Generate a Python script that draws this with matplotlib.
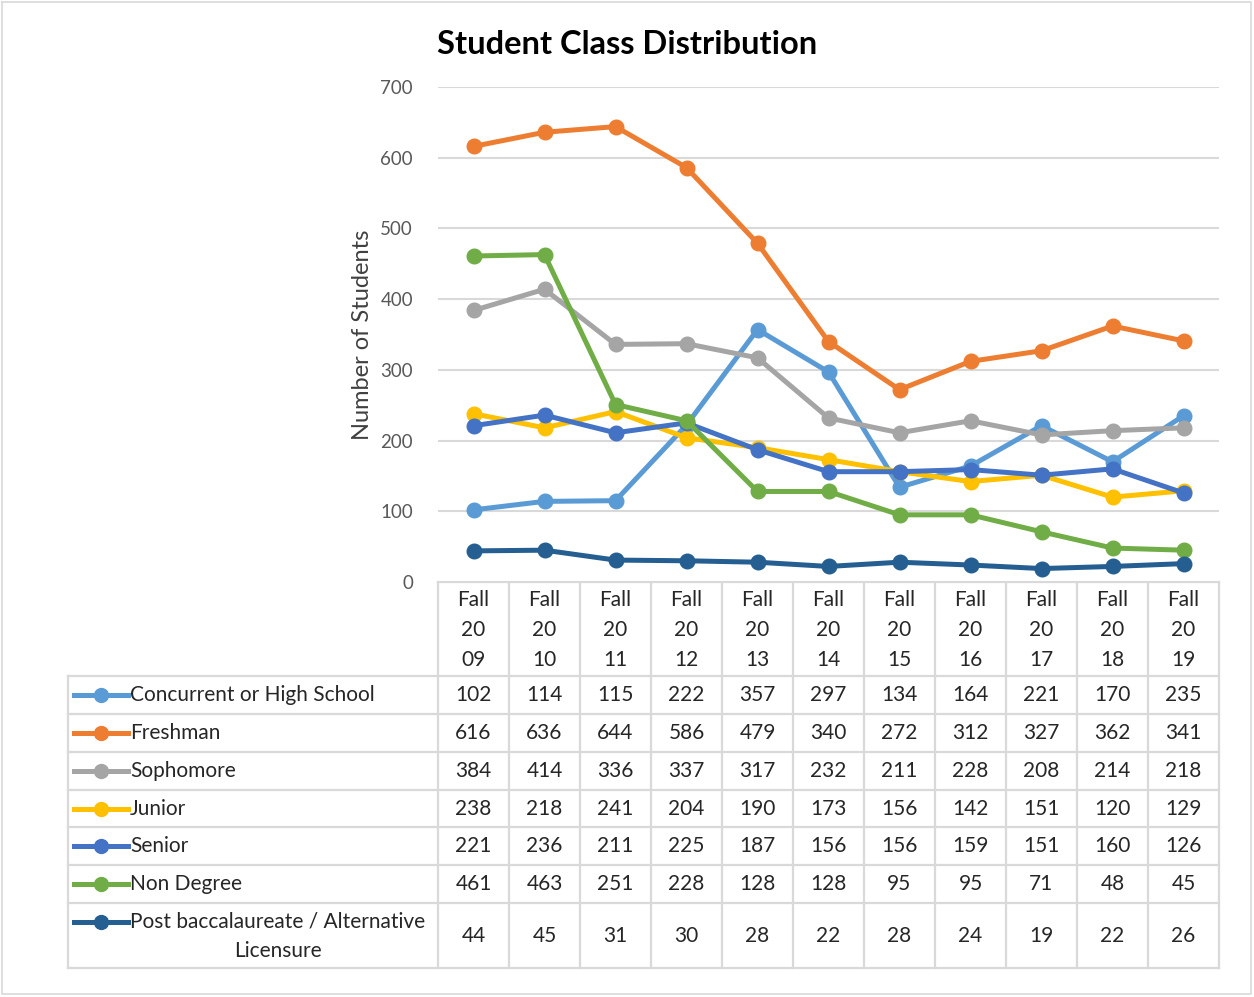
import matplotlib
matplotlib.use('Agg')
import matplotlib.pyplot as plt
import numpy as np

plt.rcParams['font.family'] = ['Lato', 'DejaVu Sans']

years = ['2009', '2010', '2011', '2012', '2013', '2014', '2015', '2016', '2017', '2018', '2019']
series_names = ['Concurrent or High School', 'Freshman', 'Sophomore', 'Junior',
                'Senior', 'Non Degree', 'Post baccalaureate / Alternative\nLicensure']
concurrent = [102, 114, 115, 222, 357, 297, 134, 164, 221, 170, 235]
freshman = [616, 636, 644, 586, 479, 340, 272, 312, 327, 362, 341]
sophomore = [384, 414, 336, 337, 317, 232, 211, 228, 208, 214, 218]
junior = [238, 218, 241, 204, 190, 173, 156, 142, 151, 120, 129]
senior = [221, 236, 211, 225, 187, 156, 156, 159, 151, 160, 126]
non_degree = [461, 463, 251, 228, 128, 128, 95, 95, 71, 48, 45]
post_bacc = [44, 45, 31, 30, 28, 22, 28, 24, 19, 22, 26]
colors = ['#5B9BD5', '#ED7D31', '#A5A5A5', '#FFC000', '#4472C4', '#70AD47', '#255E91']

all_series = [concurrent, freshman, sophomore, junior, senior, non_degree, post_bacc]

W, H = 1254, 997
fig = plt.figure(figsize=(W / 100, H / 100), dpi=100)

# plot area in pixel coords
px0, px1 = 438, 1219
py_top, py_bot = 87, 582
ax = fig.add_axes([px0 / W, 1 - py_bot / H, (px1 - px0) / W, (py_bot - py_top) / H])
x = np.arange(len(years))
for vals, c in zip(all_series, colors):
    ax.plot(x, vals, color=c, lw=3.6, marker='o', ms=10.5, solid_capstyle='round')
ax.set_xlim(-0.5, len(years) - 0.5)
ax.set_ylim(0, 700)
ax.set_yticks(range(0, 701, 100))
ax.yaxis.grid(True, color='#d9d9d9', lw=1.5)
ax.set_axisbelow(True)
ax.set_xticks([])
for s in ax.spines.values():
    s.set_visible(False)
ax.tick_params(axis='y', length=0, labelsize=13.5, labelcolor='#595959', pad=18)
ax.set_ylabel('Number of Students', fontsize=17, color='#404040', labelpad=5)

# overlay for table, pixel coordinates
tx = fig.add_axes([0, 0, 1, 1], zorder=-1)
tx.set_xlim(0, W)
tx.set_ylim(H, 0)
tx.axis('off')

# outer frame of the image
tx.plot([2, W - 3, W - 3, 2, 2], [2, 2, H - 3, H - 3, 2], color='#d9d9d9', lw=1.2)

fig.text(627 / W, 1 - 44 / H, 'Student Class Distribution', ha='center', va='center',
         fontsize=23.5, fontweight='bold', color='black')

col_w = (px1 - px0) / len(years)
col_edges = [px0 + i * col_w for i in range(len(years) + 1)]
row_edges = [676, 714, 752, 790, 827, 865, 903, 968]
lc = '#d9d9d9'
lw = 1.6
tx.plot([px0, px1], [py_bot, py_bot], color=lc, lw=lw)
for e in col_edges:
    tx.plot([e, e], [py_bot, row_edges[-1]], color=lc, lw=lw)
for r in row_edges:
    tx.plot([68, px1], [r, r], color=lc, lw=lw)
tx.plot([68, 68], [row_edges[0], row_edges[-1]], color=lc, lw=lw)

fs = 15
for i, y in enumerate(years):
    cx = col_edges[i] + col_w / 2
    tx.text(cx, 630, 'Fall\n' + y[:2] + '\n' + y[2:], ha='center', va='center',
            fontsize=fs, color='#262626', linespacing=1.6)

for j, (name, vals, c) in enumerate(zip(series_names, all_series, colors)):
    top, bot = row_edges[j], row_edges[j + 1]
    cy = (top + bot) / 2
    ky = top + 19
    tx.plot([74, 128], [ky, ky], color=c, lw=3.6)
    tx.plot([101], [ky], 'o', color=c, ms=10)
    if '\n' in name:
        tx.text(130, top + 8, name, ha='left', va='top', multialignment='center',
                fontsize=fs, color='#262626', linespacing=1.6)
    else:
        tx.text(130, ky, name, ha='left', va='center', fontsize=fs, color='#262626')
    for i, v in enumerate(vals):
        tx.text(col_edges[i] + col_w / 2, cy, str(v), ha='center', va='center',
                fontsize=fs, color='#262626')

fig.savefig('out.png', dpi=100, facecolor='white')
